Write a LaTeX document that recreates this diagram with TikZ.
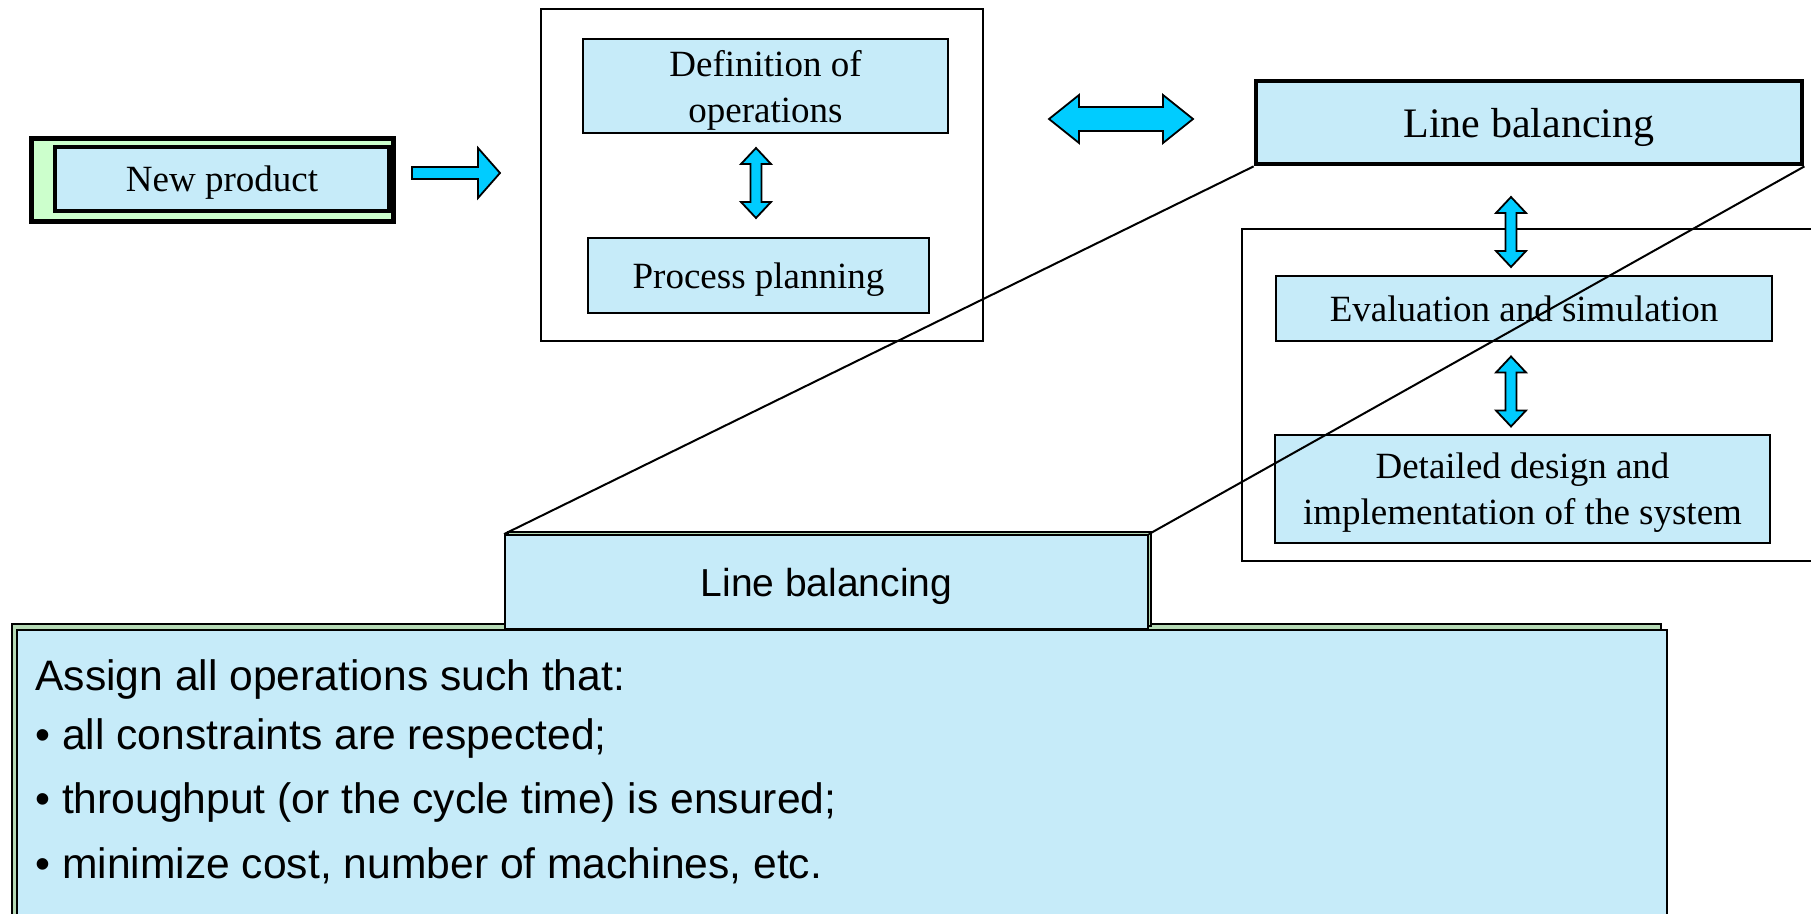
\documentclass[tikz,border=0pt]{standalone}
\usepackage{fontspec}
\setmainfont{Liberation Serif}
\setsansfont{Liberation Sans}
\definecolor{boxblue}{RGB}{198,235,249}
\definecolor{arrowcyan}{RGB}{0,204,255}
\definecolor{shadowgreen}{RGB}{204,255,204}
\begin{document}
\begin{tikzpicture}[x=0.5pt,y=-0.5pt,
    box/.style={draw,fill=boxblue,line width=1pt,inner sep=0pt,align=center,
      text depth=0pt,font=\fontsize{18.5}{23}\selectfont},
    frame/.style={draw,line width=1pt,inner sep=0pt},
    blockarrow/.style={draw,fill=arrowcyan,line width=0.9pt,line join=miter}]

        \useasboundingbox (0,0) rectangle (1811,914);

        % frames
        \node[frame,minimum width=221pt,minimum height=166pt] (plan) at (762,175) {};
        \node[frame,minimum width=294pt,minimum height=166pt] (design) at (1536,395) {};

        % boxes of the flow
        \draw[fill=shadowgreen,line width=2.5pt] (31,139) rectangle (393,222);
        \node[box,line width=2pt,minimum width=167pt,minimum height=32pt] (np) at (222,179) {New product};
        \node[box,minimum width=182.5pt,minimum height=47pt] (def) at (765.5,86) {Definition of\\operations};
        \node[box,minimum width=170.5pt,minimum height=37.5pt] (pp) at (758.5,275.5) {Process planning};
        \node[box,line width=2.4pt,minimum width=273pt,minimum height=41.5pt,
          font=\fontsize{21}{25}\selectfont] (lbtop) at (1529,122.5) {Line balancing};
        \node[box,minimum width=248pt,minimum height=32.5pt] (eval) at (1524,308.5) {Evaluation and simulation};
        \node[box,minimum width=247.5pt,minimum height=54pt] (detail) at (1522.5,489) {Detailed design and\\implementation of the system};

        % zoomed part
        \draw[fill=shadowgreen!70!gray,line width=0.8pt] (12,624) rectangle (1661,940);
        \node[box,line width=0.9pt,minimum width=825pt,minimum height=155pt] (task) at (842,785) {};
        \draw[fill=shadowgreen!70!gray,line width=0.8pt] (508,532) rectangle (1151,626);
        \node[box,line width=0.9pt,minimum width=321.5pt,minimum height=47pt,
          font=\sffamily\fontsize{19.5}{23}\selectfont] (lbbot) at (826.5,582) {Line balancing};

        \draw[line width=1pt] (lbtop.south west) -- (lbbot.north west);
        \draw[line width=1pt] (lbtop.south east) -- (lbbot.north east);

        \begin{scope}[every node/.style={anchor=base west,inner sep=0pt,
            font=\sffamily\fontsize{21.3}{25}\selectfont}]
          \node (t0) at (35,690) {Assign all operations such that:};
          \node (t1) at (35,749) {\textbullet\ all constraints are respected;};
          \node (t2) at (35,813) {\textbullet\ throughput (or the cycle time) is ensured;};
          \node (t3) at (35,878) {\textbullet\ minimize cost, number of machines, etc.};
        \end{scope}

        % block arrows
        \coordinate (np2plan) at (456,173);
        \coordinate (plan2lb) at (1121,119);
        \draw[blockarrow,shift={(np2plan)}] (-44,-6) -- (22,-6) -- (22,-25) -- (44,0)
          -- (22,25) -- (22,6) -- (-44,6) -- cycle;
        \draw[blockarrow,shift={(plan2lb)}] (-72,0) -- (-42,-24) -- (-42,-12) -- (42,-12)
          -- (42,-24) -- (72,0) -- (42,24) -- (42,12) -- (-42,12) -- (-42,24) -- cycle;

        \coordinate (def2pp) at (756,183);
        \coordinate (lb2eval) at (1511,232);
        \coordinate (eval2det) at (1511,391.5);
        \foreach \c in {def2pp,lb2eval,eval2det}
          \draw[blockarrow,shift={(\c)}] (0,-35) -- (15,-19) -- (5.5,-19) -- (5.5,19)
            -- (15,19) -- (0,35) -- (-15,19) -- (-5.5,19) -- (-5.5,-19) -- (-15,-19) -- cycle;

      \end{tikzpicture}
\end{document}
